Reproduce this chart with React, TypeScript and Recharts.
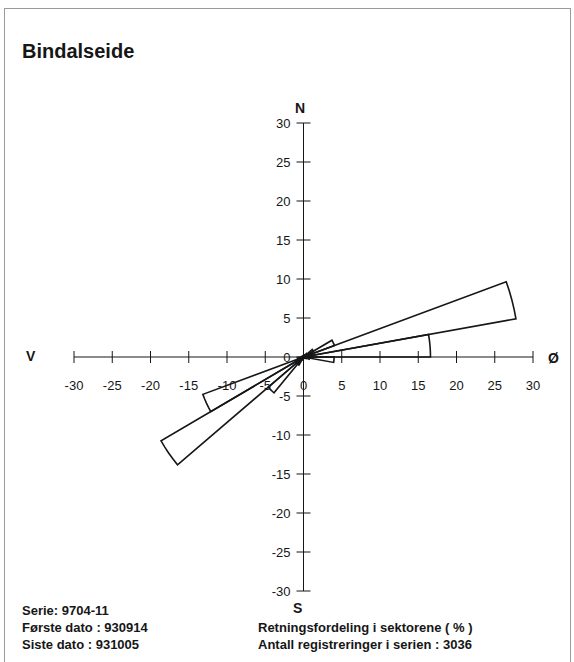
import React from "react";
import { ScatterChart, Scatter, XAxis, YAxis, ReferenceLine } from "recharts";

// retningsfordeling i prosent, 36 sektorer à 10 grader, fra nord med klokka
const sectorStart = [
  0, 10, 20, 30, 40, 50, 60, 70, 80, 90, 100, 110,
  120, 130, 140, 150, 160, 170, 180, 190, 200, 210, 220, 230,
  240, 250, 260, 270, 280, 290, 300, 310, 320, 330, 340, 350
];
const sectorPct = [
  0.2, 0.1, 0.2, 0.3, 0.6, 1.5, 4.3, 28.2, 16.6, 4.0, 0.8, 0.4,
  0.2, 0.2, 0.1, 0.1, 0.1, 0.1, 0.1, 0.2, 0.4, 1.2, 6.0, 21.5,
  14.0, 0.8, 0.4, 0.2, 0.2, 0.1, 0.1, 0.1, 0.1, 0.1, 0.1, 0.1
];
const sectorWidth = 10;

const axisTicks = [-30, -25, -20, -15, -10, -5, 0, 5, 10, 15, 20, 25, 30];

const title = "Bindalseide";
const infoLeft = ["Serie: 9704-11", "Første dato : 930914", "Siste dato : 931005"];
const infoRight = ["Retningsfordeling i sektorene ( % )", "Antall registreringer i serien : 3036"];

const FONT = "'Liberation Sans', Arial, Helvetica, sans-serif";
const INK = "#161616";

function wedge(bearing: number, r: number) {
  const pts = [{ x: 0, y: 0 }];
  const steps = 4;
  for (let k = 0; k <= steps; k++) {
    const a = ((bearing + (sectorWidth * k) / steps) * Math.PI) / 180;
    pts.push({ x: r * Math.sin(a), y: r * Math.cos(a) });
  }
  pts.push({ x: 0, y: 0 });
  return pts;
}

const xTickData = axisTicks.map((t) => ({ x: t, y: 0 }));
const yTickData = axisTicks.map((t) => ({ x: 0, y: t }));

const Empty = () => <g />;

const XTick = (p: any) => (
  <g>
    <line x1={p.cx} x2={p.cx} y1={p.cy - 6} y2={p.cy + 6} stroke={INK} strokeWidth={1} />
    <text
      x={p.cx}
      y={p.cy + 28}
      textAnchor="middle"
      dominantBaseline="central"
      fontSize={13}
      fontFamily={FONT}
      fill={INK}
    >
      {p.payload.x}
    </text>
  </g>
);

const YTick = (p: any) => (
  <g>
    <line x1={p.cx - 7} x2={p.cx + 7} y1={p.cy} y2={p.cy} stroke={INK} strokeWidth={1} />
    <text
      x={p.cx - 13}
      y={p.cy}
      textAnchor="end"
      dominantBaseline="central"
      fontSize={13}
      fontFamily={FONT}
      fill={INK}
    >
      {p.payload.y}
    </text>
  </g>
);

const label = (text: string, left: number, top: number, size: number) => (
  <div
    key={text}
    style={{
      position: "absolute",
      left,
      top,
      fontFamily: FONT,
      fontWeight: 700,
      fontSize: size,
      color: INK,
      whiteSpace: "nowrap",
      lineHeight: 1
    }}
  >
    {text}
  </div>
);

export default function App() {
  return (
    <div style={{ position: "absolute", left: 0, top: 0, width: 574, height: 662, background: "#fff", overflow: "hidden" }}>
      <div
        style={{
          position: "absolute",
          left: 4,
          top: 8,
          width: 565,
          height: 670,
          border: "1px solid #9a9a9a"
        }}
      />
      <div style={{ position: "absolute", left: 0, top: 0 }}>
        <ScatterChart width={574} height={662} margin={{ left: 74, right: 41, top: 123, bottom: 71 }}>
          <XAxis type="number" dataKey="x" domain={[-30, 30]} hide />
          <YAxis type="number" dataKey="y" domain={[-30, 30]} hide />
          <ReferenceLine x={0} stroke={INK} strokeWidth={1} />
          <ReferenceLine y={0} stroke={INK} strokeWidth={1} />
          <Scatter data={xTickData} shape={XTick} isAnimationActive={false} />
          <Scatter data={yTickData} shape={YTick} isAnimationActive={false} />
          {sectorStart.map((b, i) => (
            <Scatter
              key={b}
              data={wedge(b, sectorPct[i])}
              shape={Empty}
              line={{ stroke: INK, strokeWidth: 1.6, fill: "none" }}
              lineType="joint"
              lineJointType="linear"
              isAnimationActive={false}
            />
          ))}
        </ScatterChart>
      </div>
      {label(title, 22, 41, 20)}
      {label("N", 295, 101, 14)}
      {label("S", 293, 601, 14)}
      {label("V", 26, 349, 14)}
      {label("Ø", 548, 351, 14)}
      {infoLeft.map((t, i) => label(t, 22, 604 + i * 17, 13))}
      {infoRight.map((t, i) => label(t, 258, 621 + i * 17, 13))}
    </div>
  );
}
